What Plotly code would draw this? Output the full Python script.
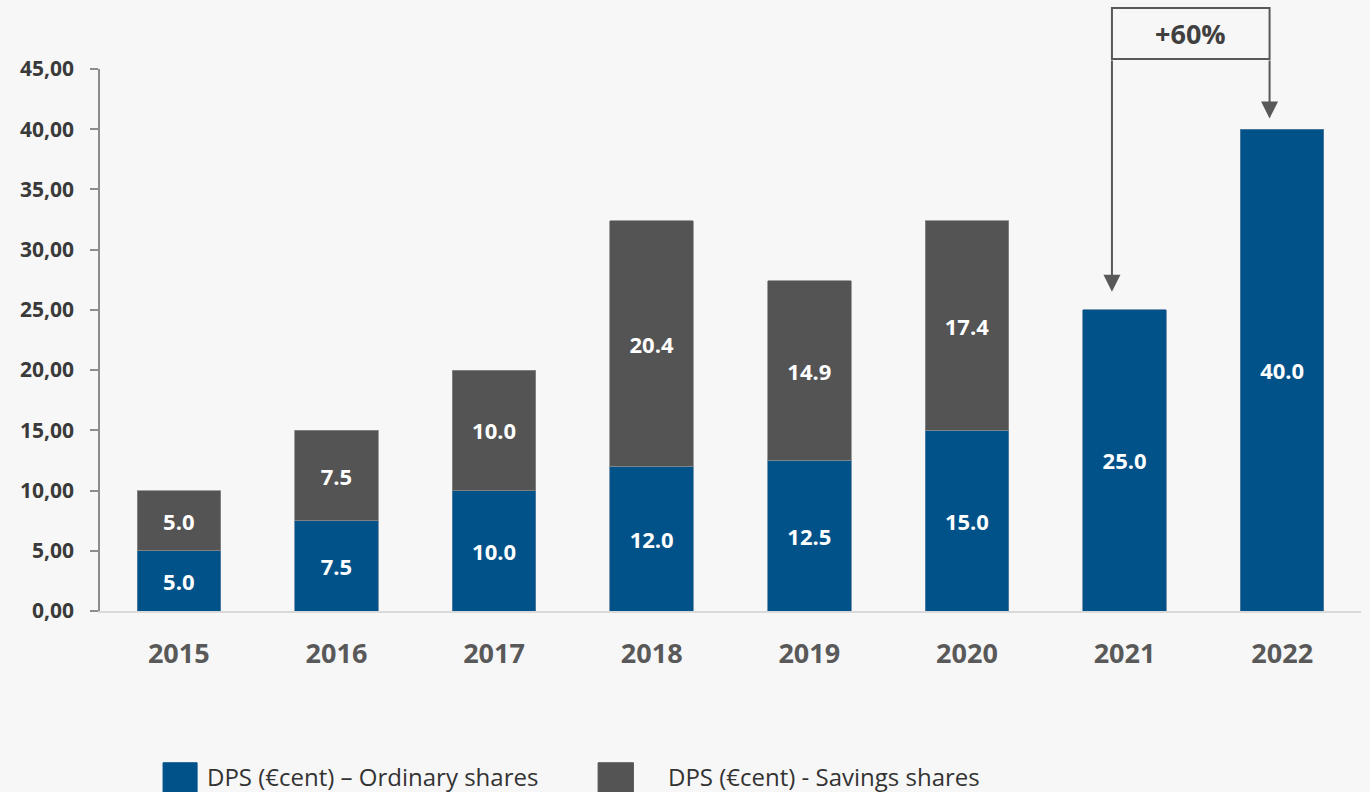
import plotly.graph_objects as go

years = ["2015", "2016", "2017", "2018", "2019", "2020", "2021", "2022"]
ordinary = [5.0, 7.5, 10.0, 12.0, 12.5, 15.0, 25.0, 40.0]
savings = [5.0, 7.5, 10.0, 20.4, 14.9, 17.4, None, None]
y_ticks = [0, 5, 10, 15, 20, 25, 30, 35, 40, 45]
growth_label = "+60%"
names = ["DPS (€cent) – Ordinary shares", "DPS (€cent) - Savings shares"]

BLUE = "#02528a"
GRAY = "#545454"
BG = "#f7f7f7"
FONT = "Open Sans"

fig = go.Figure()
fig.add_trace(go.Bar(
    x=years, y=ordinary, name=names[0], showlegend=False,
    marker=dict(color=BLUE, line=dict(color="#5a7fa0", width=0.8)),
    text=[f"{v:.1f}" for v in ordinary], textposition="inside",
    insidetextanchor="middle",
    textfont=dict(color="white", size=22, family=FONT, weight="bold"),
))
fig.add_trace(go.Bar(
    x=years, y=savings, name=names[1], showlegend=False,
    marker=dict(color=GRAY, line=dict(color="#8a8a8a", width=0.8)),
    text=[f"{v:.1f}" if v is not None else "" for v in savings], textposition="inside",
    insidetextanchor="middle",
    textfont=dict(color="white", size=22, family=FONT, weight="bold"),
))

# growth annotation
i21 = years.index("2021")
i22 = years.index("2022")
off = 0.08
box_bottom = 1.0185
box_top = 1.1125
fig.add_shape(type="rect", xref="x", yref="paper",
              x0=i21 - off, x1=i22 - off, y0=box_bottom, y1=box_top,
              line=dict(color="#595959", width=2), fillcolor=BG, layer="above")
fig.add_annotation(xref="x", yref="paper", x=(i21 + i22) / 2 - off, y=(box_bottom + box_top) / 2,
                   xanchor="center", yanchor="middle",
                   text=f"<b>{growth_label}</b>", showarrow=False,
                   font=dict(size=27, color="#404040", family=FONT))
top_val = 45 * box_bottom
for idx, val, gap in [(i21, ordinary[i21], 1.5), (i22, ordinary[i22], 0.9)]:
    fig.add_annotation(xref="x", yref="y", axref="x", ayref="y",
                       x=idx - off, y=val + gap, ax=idx - off, ay=top_val,
                       text="", showarrow=True, arrowhead=2, arrowsize=1.7,
                       arrowwidth=2, arrowcolor="#595959")

# manual legend (large swatches as in the reference)
legend_items = [(BLUE, 0.050, 0.077, 0.0833, names[0]), (GRAY, 0.395, 0.423, 0.449, names[1])]
for color, sx0, sx1, tx, label in legend_items:
    fig.add_shape(type="rect", xref="paper", yref="paper", x0=sx0, x1=sx1, y0=-0.36, y1=-0.280,
                  fillcolor=color, line=dict(color=color, width=1), layer="above")
    fig.add_annotation(xref="paper", yref="paper", x=tx, y=-0.306, xanchor="left", yanchor="middle",
                       text=label, showarrow=False,
                       font=dict(size=24, color="#333333", family=FONT))

fig.update_layout(
    barmode="stack",
    bargap=0.47,
    width=1370, height=792,
    paper_bgcolor=BG, plot_bgcolor=BG,
    margin=dict(l=100, r=9, t=69, b=181),
    separators=", ",
    font=dict(family=FONT, color="#404040"),
    showlegend=False,
    xaxis=dict(
        tickfont=dict(size=27, color="#595959", family=FONT, weight="bold"),
        showline=True, linecolor="#d9d9d9", linewidth=2,
        ticks="", showgrid=False, ticklabelstandoff=18,
    ),
    yaxis=dict(
        range=[0, 45], tickvals=y_ticks, tickformat=".2f",
        tickfont=dict(size=21, color="#3a3a3a", family=FONT, weight="bold"),
        showline=True, linecolor="#8c8c8c", linewidth=1.5,
        ticks="outside", ticklen=8, tickcolor="#8c8c8c", tickwidth=1.5,
        showgrid=False, zeroline=False, ticklabelstandoff=12,
    ),
)

fig.write_html("out.html", config={"displayModeBar": False},
               post_script="document.body.style.margin='0';document.body.style.overflow='hidden';")
